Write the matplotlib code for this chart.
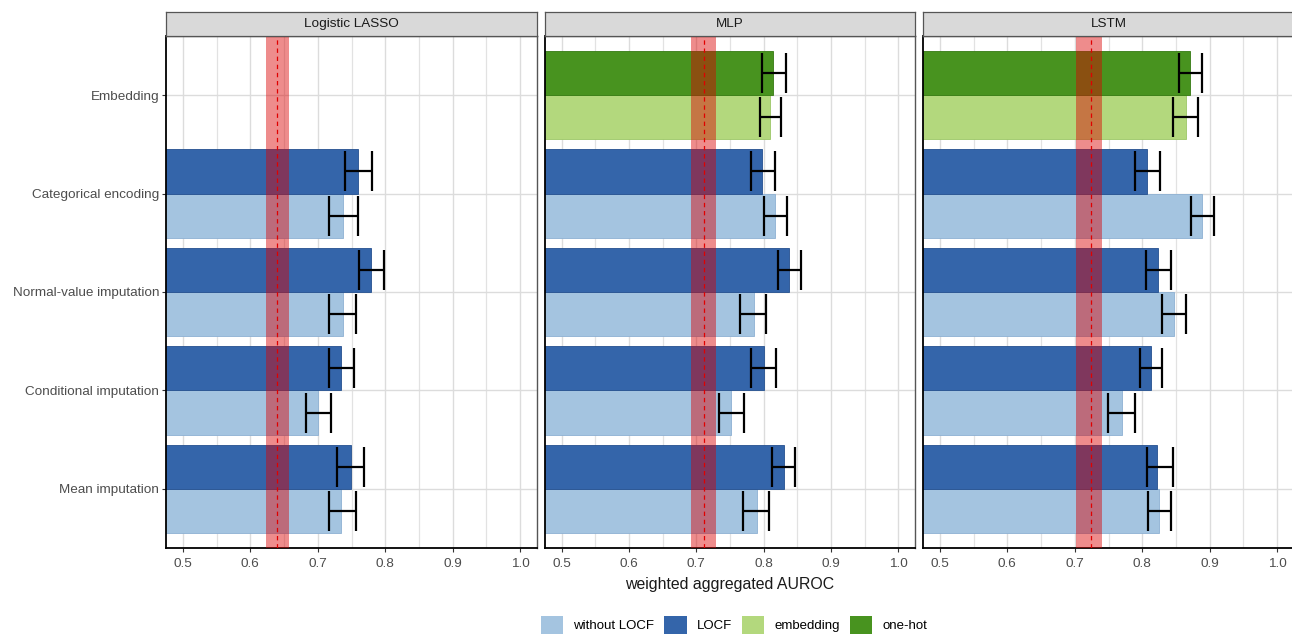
import numpy as np
import matplotlib
matplotlib.use("Agg")
import matplotlib.pyplot as plt
from matplotlib.patches import Patch

plt.rcParams['font.family'] = ['Liberation Sans', 'DejaVu Sans']

# ---------------- data ----------------
categories = ["Mean imputation", "Conditional imputation", "Normal-value imputation",
              "Categorical encoding", "Embedding"]          # bottom -> top
models = ["Logistic LASSO", "MLP", "LSTM"]
nan = np.nan

# light series: "without LOCF" (embedding row: "embedding")
# dark series:  "LOCF"         (embedding row: "one-hot")
lasso_light    = [0.735, 0.701, 0.737, 0.738, nan]
lasso_light_lo = [0.717, 0.682, 0.717, 0.717, nan]
lasso_light_hi = [0.757, 0.720, 0.757, 0.760, nan]
lasso_dark     = [0.749, 0.735, 0.779, 0.760, nan]
lasso_dark_lo  = [0.728, 0.717, 0.761, 0.741, nan]
lasso_dark_hi  = [0.769, 0.753, 0.798, 0.780, nan]

mlp_light    = [0.790, 0.751, 0.786, 0.817, 0.810]
mlp_light_lo = [0.770, 0.734, 0.765, 0.800, 0.794]
mlp_light_hi = [0.808, 0.771, 0.804, 0.835, 0.826]
mlp_dark     = [0.830, 0.801, 0.838, 0.798, 0.814]
mlp_dark_lo  = [0.812, 0.781, 0.821, 0.781, 0.797]
mlp_dark_hi  = [0.846, 0.818, 0.855, 0.817, 0.833]

lstm_light    = [0.825, 0.770, 0.847, 0.889, 0.865]
lstm_light_lo = [0.808, 0.749, 0.829, 0.872, 0.846]
lstm_light_hi = [0.843, 0.790, 0.865, 0.906, 0.883]
lstm_dark     = [0.822, 0.813, 0.824, 0.807, 0.871]
lstm_dark_lo  = [0.807, 0.796, 0.805, 0.790, 0.854]
lstm_dark_hi  = [0.846, 0.830, 0.842, 0.827, 0.889]

# baseline band (mean and interval) per model
baseline_mean = [0.639, 0.711, 0.724]
baseline_lo   = [0.623, 0.692, 0.702]
baseline_hi   = [0.657, 0.729, 0.740]

legend_labels = ["without LOCF", "LOCF", "embedding", "one-hot"]
xticks = [0.5, 0.6, 0.7, 0.8, 0.9, 1.0]
xtick_labels = ["0.5", "0.6", "0.7", "0.8", "0.9", "1.0"]

# ---------------- styles ----------------
c_light_blue = "#A4C4E0"
c_dark_blue = "#3465AA"
c_light_green = "#B3D87D"
c_dark_green = "#48931F"
e_light_blue = "#8DB0D3"
e_dark_blue = "#24508F"
e_light_green = "#9CC667"
e_dark_green = "#357A12"
band_color = (0.86, 0.0, 0.0)

series = {
    "Logistic LASSO": (lasso_light, lasso_light_lo, lasso_light_hi, lasso_dark, lasso_dark_lo, lasso_dark_hi),
    "MLP": (mlp_light, mlp_light_lo, mlp_light_hi, mlp_dark, mlp_dark_lo, mlp_dark_hi),
    "LSTM": (lstm_light, lstm_light_lo, lstm_light_hi, lstm_dark, lstm_dark_lo, lstm_dark_hi),
}

W, H = 1292, 637
fig = plt.figure(figsize=(W / 100, H / 100), dpi=100)

panel_px = [(166, 371), (545, 370), (923, 371)]
top_px, bot_px, strip_top_px = 36, 548, 12

ypos = np.arange(1, len(categories) + 1)
bh = 0.45
emb_idx = categories.index("Embedding")

for mi, model in enumerate(models):
    x0, w = panel_px[mi]
    ax = fig.add_axes([x0 / W, (H - bot_px) / H, w / W, (bot_px - top_px) / H])
    light, llo, lhi, dark, dlo, dhi = [np.array(a, dtype=float) for a in series[model]]

    lc = [c_light_green if i == emb_idx else c_light_blue for i in range(len(categories))]
    dc = [c_dark_green if i == emb_idx else c_dark_blue for i in range(len(categories))]
    le = [e_light_green if i == emb_idx else e_light_blue for i in range(len(categories))]
    de = [e_dark_green if i == emb_idx else e_dark_blue for i in range(len(categories))]

    ok = ~np.isnan(light)
    ax.barh(ypos[ok] - bh / 2, light[ok], height=bh, color=np.array(lc)[ok],
            edgecolor=np.array(le)[ok], linewidth=0.6, zorder=2)
    ax.barh(ypos[ok] + bh / 2, dark[ok], height=bh, color=np.array(dc)[ok],
            edgecolor=np.array(de)[ok], linewidth=0.6, zorder=2)

    ax.errorbar(light[ok], ypos[ok] - bh / 2,
                xerr=[light[ok] - llo[ok], lhi[ok] - light[ok]],
                fmt='none', ecolor='black', elinewidth=1.6, capsize=14.5, capthick=1.6, zorder=3)
    ax.errorbar(dark[ok], ypos[ok] + bh / 2,
                xerr=[dark[ok] - dlo[ok], dhi[ok] - dark[ok]],
                fmt='none', ecolor='black', elinewidth=1.6, capsize=14.5, capthick=1.6, zorder=3)

    ax.axvspan(baseline_lo[mi], baseline_hi[mi], color=band_color, alpha=0.45, lw=0, zorder=4)
    ax.axvline(baseline_mean[mi], color="#E00000", lw=0.9, ls=(0, (3.5, 3)), zorder=5)

    ax.set_xlim(0.475, 1.025)
    ax.set_ylim(0.4, len(categories) + 0.6)
    ax.set_xticks(xticks)
    ax.set_xticklabels(xtick_labels)
    ax.set_xticks(np.arange(0.55, 1.0, 0.1), minor=True)
    ax.grid(True, which='major', color="#DCDCDC", lw=1.0, zorder=0)
    ax.grid(True, which='minor', axis='x', color="#E2E2E2", lw=0.9, zorder=0)
    ax.set_axisbelow(True)
    ax.set_yticks(ypos)
    ax.tick_params(axis='x', which='minor', length=0)
    ax.tick_params(axis='x', which='major', length=3, width=0.8, color="#333333",
                   labelsize=9.7, labelcolor="#4D4D4D", pad=4)
    if mi == 0:
        ax.set_yticklabels(categories)
        ax.tick_params(axis='y', length=3, width=0.8, color="#333333",
                       labelsize=9.7, labelcolor="#4D4D4D", pad=2)
    else:
        ax.set_yticklabels([])
        ax.tick_params(axis='y', length=0)
    for s in ['left', 'bottom']:
        ax.spines[s].set_color("black")
        ax.spines[s].set_linewidth(1.3)
    for s in ['top', 'right']:
        ax.spines[s].set_color("#555555")
        ax.spines[s].set_linewidth(1.0)

    if mi == 1:
        ax.set_xlabel("weighted aggregated AUROC", fontsize=11.4, color="#1A1A1A", labelpad=5)

    # facet strip
    sax = fig.add_axes([x0 / W, (H - top_px) / H, w / W, (top_px - strip_top_px) / H])
    sax.set_facecolor("#D9D9D9")
    sax.set_xticks([])
    sax.set_yticks([])
    for s in sax.spines.values():
        s.set_color("#555555")
        s.set_linewidth(0.9)
    sax.text(0.5, 0.5, model, ha='center', va='center', fontsize=9.7,
             color="#1A1A1A", transform=sax.transAxes)

handles = [Patch(facecolor=c, edgecolor='none') for c in
           [c_light_blue, c_dark_blue, c_light_green, c_dark_green]]
fig.legend(handles, legend_labels, loc='center', bbox_to_anchor=(734 / W, 1 - 625 / H),
           ncol=4, frameon=False, fontsize=9.5, handlelength=1.67, handleheight=1.67,
           handletextpad=0.75, columnspacing=0.8, borderaxespad=0, borderpad=0)

fig.savefig("out.png", dpi=100, facecolor="white")
